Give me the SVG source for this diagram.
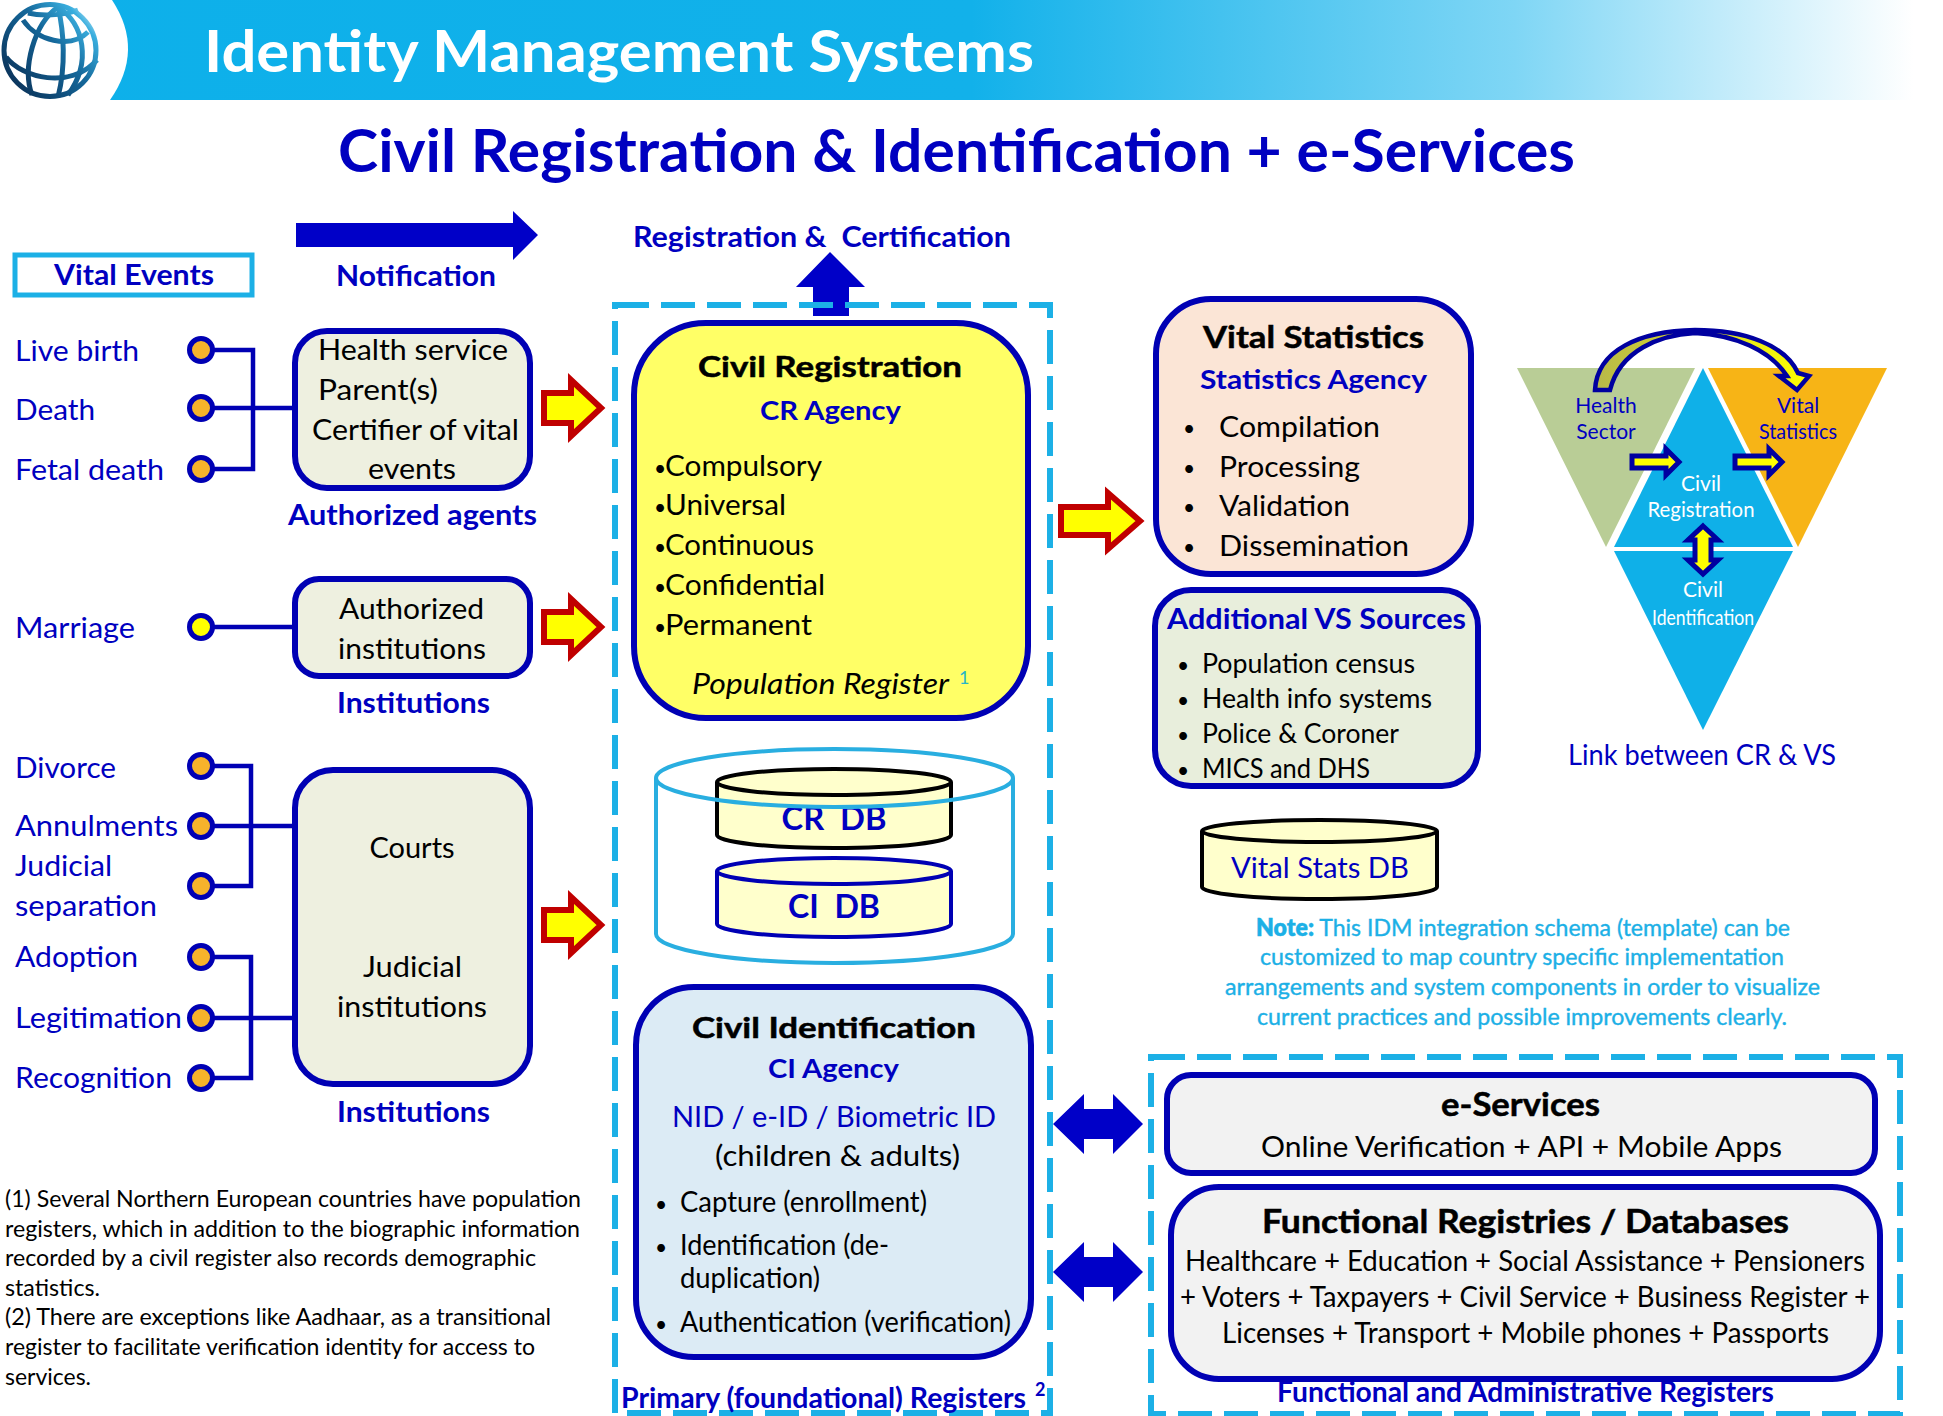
<svg xmlns="http://www.w3.org/2000/svg" width="1943" height="1416" viewBox="0 0 1943 1416">
<style>
text{font-family:"Lato","Liberation Sans",sans-serif;font-size:29px;fill:#000;white-space:pre}
.b{font-weight:700}
.blue{fill:#0000c0}
.blueb{fill:#0000c0;font-weight:700}
.m{text-anchor:middle}
.box{stroke:#0000b4;stroke-width:6}
.dash{fill:none;stroke:#1cb0e6;stroke-width:6;stroke-dasharray:34 12}
.red{fill:#ffff00;stroke:#c00000;stroke-width:6}
.solid{fill:#0000c8}
.dot{fill:#f7b32b;stroke:#0000b4;stroke-width:5}
.con{fill:none;stroke:#0000b4;stroke-width:4.5}
.note{fill:#1cb0e6;font-size:24px;stroke:#1cb0e6;stroke-width:.4}
.foot{font-size:23.5px}
.cyl{fill:#ffffcc;stroke:#000;stroke-width:4}
.mini{fill:#ffff00;stroke:#0000a0;stroke-width:5}
.tri{font-size:21px}
.w{fill:#fff}
.big{font-weight:700;stroke:#000;stroke-width:.5}
.s26{font-size:26px}
.bu{font-size:21px}
</style>
<defs>
<linearGradient id="band" x1="0" x2="1" y1="0" y2="0"><stop offset="0" stop-color="#0db0ea"/><stop offset="0.5" stop-color="#12b1ea"/><stop offset="0.78" stop-color="#7fd6f5"/><stop offset="0.985" stop-color="#ffffff"/></linearGradient>
<linearGradient id="globe" gradientUnits="userSpaceOnUse" x1="5" x2="95" y1="85" y2="10"><stop offset="0" stop-color="#0a2f55"/><stop offset="0.55" stop-color="#14679a"/><stop offset="0.85" stop-color="#39aede"/><stop offset="1" stop-color="#d8f1fb"/></linearGradient>
<linearGradient id="curve" x1="0" x2="1" y1="0" y2="0"><stop offset="0" stop-color="#b7b84a"/><stop offset="1" stop-color="#ffff00"/></linearGradient>
<path id="redArrow" d="M0 -15H27V-28L57 0L27 28V15H0Z"/>
<path id="redArrowLong" d="M0 -14H47V-28L79 0L47 28V14H0Z"/>
<path id="dbl" d="M0 0L31 -30V-15H60V-30L90 0L60 30V15H31V30Z"/>
<path id="miniH" d="M0 -6H34V-13L47 0L34 13V6H0Z"/>
</defs>

<g id="header">
<rect x="0" y="0" width="1943" height="100" fill="url(#band)"/>
<path d="M0 0H112Q145 50 110 100H0Z" fill="#fff"/>
<g fill="none" stroke="url(#globe)" stroke-width="5">
<circle cx="50" cy="50.500" r="46"/>
<path d="M58 7C34 24 22 68 32 95"/>
<path d="M58 7C64 32 66 66 58 97"/>
<path d="M58 7C84 24 92 62 68 95"/>
<path d="M23 20C36 40 70 50 88 32"/>
<path d="M6 57C22 78 70 90 97 60"/>
<path d="M28 13C40 16 62 16 78 10"/>
</g>
<text class="w b" x="204" y="72" style="font-size:57px" textLength="830" lengthAdjust="spacingAndGlyphs">Identity Management Systems</text>
</g>
<g id="title"><text class="blueb" x="338" y="172" style="font-size:60px" textLength="1237" lengthAdjust="spacingAndGlyphs">Civil Registration &amp; Identification + e-Services</text></g>

<g id="vital-events">
<rect x="15" y="255" width="237" height="40" fill="#fff" stroke="#1cb0e6" stroke-width="5"/>
<text class="blueb" x="54" y="285" textLength="160" lengthAdjust="spacingAndGlyphs">Vital Events</text>
</g>
<g id="notification">
<path class="solid" d="M296 223H513V211L538 235L513 260V247H296Z"/>
<text class="blueb" x="336" y="286" textLength="160" lengthAdjust="spacingAndGlyphs">Notification</text>
</g>
<g id="registration-certification">
<text class="blueb" x="633" y="247" textLength="378" lengthAdjust="spacingAndGlyphs">Registration &amp;  Certification</text>
</g>

<g id="events-labels">
<text class="blue" x="15" y="361" textLength="124" lengthAdjust="spacingAndGlyphs">Live birth</text>
<text class="blue" x="15" y="420" textLength="80" lengthAdjust="spacingAndGlyphs">Death</text>
<text class="blue" x="15" y="480" textLength="149" lengthAdjust="spacingAndGlyphs">Fetal death</text>
<text class="blue" x="15" y="638" textLength="120" lengthAdjust="spacingAndGlyphs">Marriage</text>
<text class="blue" x="15" y="778" textLength="101" lengthAdjust="spacingAndGlyphs">Divorce</text>
<text class="blue" x="15" y="836" textLength="163" lengthAdjust="spacingAndGlyphs">Annulments</text>
<text class="blue" x="15" y="876" textLength="97" lengthAdjust="spacingAndGlyphs">Judicial</text>
<text class="blue" x="15" y="916" textLength="142" lengthAdjust="spacingAndGlyphs">separation</text>
<text class="blue" x="15" y="967" textLength="123" lengthAdjust="spacingAndGlyphs">Adoption</text>
<text class="blue" x="15" y="1028" textLength="167" lengthAdjust="spacingAndGlyphs">Legitimation</text>
<text class="blue" x="15" y="1088" textLength="157" lengthAdjust="spacingAndGlyphs">Recognition</text>
</g>

<g id="connectors">
<path class="con" d="M201 350H253V469H201M201 408H293"/>
<path class="con" d="M201 627H293"/>
<path class="con" d="M201 766H251V886H201M201 826H293"/>
<path class="con" d="M201 957H251V1078H201M201 1018H293"/>
<use href="#redArrow" class="red" x="544" y="408"/>
<use href="#redArrow" class="red" x="544" y="627"/>
<use href="#redArrow" class="red" x="544" y="925"/>
<use href="#redArrowLong" class="red" x="1061" y="521"/>
<path class="solid" d="M830 252L865 287H849V316H813V287H796Z"/>
<use href="#dbl" class="solid" x="1053" y="1124"/>
<use href="#dbl" class="solid" x="1053" y="1272"/>
</g>

<g id="dots">
<circle class="dot" cx="201" cy="350" r="11.5"/>
<circle class="dot" cx="201" cy="408" r="11.5"/>
<circle class="dot" cx="201" cy="469" r="11.5"/>
<circle class="dot" style="fill:#ffff00" cx="201" cy="627" r="11.5"/>
<circle class="dot" cx="201" cy="766" r="11.5"/>
<circle class="dot" cx="201" cy="826" r="11.5"/>
<circle class="dot" cx="201" cy="886" r="11.5"/>
<circle class="dot" cx="201" cy="957" r="11.5"/>
<circle class="dot" cx="201" cy="1018" r="11.5"/>
<circle class="dot" cx="201" cy="1078" r="11.5"/>
</g>

<g id="authorized-agents">
<rect class="box" x="295" y="331" width="235" height="157" rx="32" fill="#eef0e0"/>
<text x="318" y="360" textLength="190" lengthAdjust="spacingAndGlyphs">Health service</text>
<text x="318" y="400" textLength="120" lengthAdjust="spacingAndGlyphs">Parent(s)</text>
<text x="312" y="440" textLength="207" lengthAdjust="spacingAndGlyphs">Certifier of vital</text>
<text x="368" y="479" textLength="88" lengthAdjust="spacingAndGlyphs">events</text>
<text class="blueb" x="288" y="525" textLength="249" lengthAdjust="spacingAndGlyphs">Authorized agents</text>
</g>
<g id="institutions-1">
<rect class="box" x="295" y="579" width="235" height="97" rx="24" fill="#eef0e0"/>
<text x="339" y="619" textLength="145" lengthAdjust="spacingAndGlyphs">Authorized</text>
<text x="338" y="659" textLength="148" lengthAdjust="spacingAndGlyphs">institutions</text>
<text class="blueb" x="337" y="713" textLength="153" lengthAdjust="spacingAndGlyphs">Institutions</text>
</g>
<g id="institutions-2">
<rect class="box" x="295" y="770" width="235" height="314" rx="38" fill="#eef0e0"/>
<text class="m" x="412" y="858">Courts</text>
<text x="363" y="977" textLength="99" lengthAdjust="spacingAndGlyphs">Judicial</text>
<text x="337" y="1017" textLength="150" lengthAdjust="spacingAndGlyphs">institutions</text>
<text class="blueb" x="337" y="1122" textLength="153" lengthAdjust="spacingAndGlyphs">Institutions</text>
</g>

<g id="footnotes">
<text class="foot" x="5" y="1207" textLength="576" lengthAdjust="spacingAndGlyphs">(1) Several Northern European countries have population</text>
<text class="foot" x="5" y="1237" textLength="575" lengthAdjust="spacingAndGlyphs">registers, which in addition to the biographic information</text>
<text class="foot" x="5" y="1266" textLength="531" lengthAdjust="spacingAndGlyphs">recorded by a civil register also records demographic</text>
<text class="foot" x="5" y="1296" textLength="95" lengthAdjust="spacingAndGlyphs">statistics.</text>
<text class="foot" x="5" y="1325" textLength="546" lengthAdjust="spacingAndGlyphs">(2) There are exceptions like Aadhaar, as a transitional</text>
<text class="foot" x="5" y="1355" textLength="530" lengthAdjust="spacingAndGlyphs">register to facilitate verification identity for access to</text>
<text class="foot" x="5" y="1385" textLength="86" lengthAdjust="spacingAndGlyphs">services.</text>
</g>

<g id="primary-registers">
<rect class="dash" x="615" y="305" width="435" height="1108"/>
<text class="blueb" x="621" y="1408" style="font-size:28px" textLength="405" lengthAdjust="spacingAndGlyphs">Primary (foundational) Registers</text>
<text class="blueb" x="1035" y="1396" style="font-size:18px">2</text>
</g>

<g id="civil-registration">
<rect class="box" x="634" y="323" width="394" height="395" rx="72" fill="#ffff66"/>
<text class="big m" x="830" y="377" textLength="264" lengthAdjust="spacingAndGlyphs">Civil Registration</text>
<text class="blueb" x="760" y="420" textLength="141" lengthAdjust="spacingAndGlyphs" style="font-size:27px">CR Agency</text>
<text x="654" y="476" class="bu">•</text><text x="665" y="476" textLength="157" lengthAdjust="spacingAndGlyphs">Compulsory</text>
<text x="654" y="515" class="bu">•</text><text x="665" y="515" textLength="121" lengthAdjust="spacingAndGlyphs">Universal</text>
<text x="654" y="555" class="bu">•</text><text x="665" y="555" textLength="149" lengthAdjust="spacingAndGlyphs">Continuous</text>
<text x="654" y="595" class="bu">•</text><text x="665" y="595" textLength="160" lengthAdjust="spacingAndGlyphs">Confidential</text>
<text x="654" y="635" class="bu">•</text><text x="665" y="635" textLength="147" lengthAdjust="spacingAndGlyphs">Permanent</text>
<text x="692" y="694" style="font-style:italic" textLength="257" lengthAdjust="spacingAndGlyphs">Population Register</text>
<text x="959" y="684" style="font-size:18px;fill:#26b5c8">1</text>
</g>

<g id="db-group">
<path d="M656 778V934A178.500 29 0 0 0 1013 934V778" fill="#fff" stroke="#29aee0" stroke-width="4"/>
<g id="cr-db">
<path class="cyl" d="M717 782V835A117 13 0 0 0 951 835V782"/>
<ellipse class="cyl" cx="834" cy="782" rx="117" ry="13"/>
<text class="blueb m" x="834" y="830" textLength="105" lengthAdjust="spacingAndGlyphs" style="font-size:33px">CR  DB</text>
</g>
<ellipse cx="834.500" cy="778" rx="178.500" ry="29" fill="none" stroke="#29aee0" stroke-width="4"/>
<g id="ci-db">
<path class="cyl" style="stroke:#0000b4" d="M717 871V924A117 13 0 0 0 951 924V871"/>
<ellipse class="cyl" style="stroke:#0000b4" cx="834" cy="871" rx="117" ry="13"/>
<text class="blueb m" x="834" y="918" textLength="92" lengthAdjust="spacingAndGlyphs" style="font-size:33px">CI  DB</text>
</g>
</g>

<g id="civil-identification">
<rect class="box" x="636" y="987" width="395" height="370" rx="58" fill="#dcebf5"/>
<text class="big" x="692" y="1038" textLength="284" lengthAdjust="spacingAndGlyphs">Civil Identification</text>
<text class="blueb" x="768" y="1078" textLength="131" lengthAdjust="spacingAndGlyphs" style="font-size:27px">CI Agency</text>
<text class="blue" x="672" y="1127" textLength="324" lengthAdjust="spacingAndGlyphs">NID / e-ID / Biometric ID</text>
<text x="715" y="1166" textLength="245" lengthAdjust="spacingAndGlyphs">(children &amp; adults)</text>
<text x="655" y="1212" class="bu">•</text><text x="680" y="1212" textLength="247" lengthAdjust="spacingAndGlyphs">Capture (enrollment)</text>
<text x="655" y="1255" class="bu">•</text><text x="680" y="1255" textLength="209" lengthAdjust="spacingAndGlyphs">Identification (de-</text>
<text x="680" y="1288" textLength="140" lengthAdjust="spacingAndGlyphs">duplication)</text>
<text x="655" y="1332" class="bu">•</text><text x="680" y="1332" textLength="331" lengthAdjust="spacingAndGlyphs">Authentication (verification)</text>
</g>

<g id="vital-statistics">
<rect class="box" x="1156" y="299" width="315" height="275" rx="55" fill="#fbe5d6"/>
<text class="big" x="1203" y="348" textLength="221" lengthAdjust="spacingAndGlyphs" style="font-size:31px">Vital Statistics</text>
<text class="blueb" x="1200" y="389" textLength="227" lengthAdjust="spacingAndGlyphs" style="font-size:27px">Statistics Agency</text>
<text x="1183" y="436" class="bu">•</text><text x="1219" y="437" textLength="161" lengthAdjust="spacingAndGlyphs">Compilation</text>
<text x="1183" y="476" class="bu">•</text><text x="1219" y="477" textLength="141" lengthAdjust="spacingAndGlyphs">Processing</text>
<text x="1183" y="515" class="bu">•</text><text x="1219" y="516" textLength="131" lengthAdjust="spacingAndGlyphs">Validation</text>
<text x="1183" y="555" class="bu">•</text><text x="1219" y="556" textLength="190" lengthAdjust="spacingAndGlyphs">Dissemination</text>
</g>

<g id="additional-vs">
<rect class="box" x="1155" y="590" width="323" height="196" rx="36" fill="#e8eedc"/>
<text class="blueb" x="1167" y="629" textLength="299" lengthAdjust="spacingAndGlyphs">Additional VS Sources</text>
<text x="1177" y="673" class="bu">•</text><text x="1202" y="673" class="s26" textLength="213" lengthAdjust="spacingAndGlyphs">Population census</text>
<text x="1177" y="708" class="bu">•</text><text x="1202" y="708" class="s26" textLength="230" lengthAdjust="spacingAndGlyphs">Health info systems</text>
<text x="1177" y="743" class="bu">•</text><text x="1202" y="743" class="s26" textLength="197" lengthAdjust="spacingAndGlyphs">Police &amp; Coroner</text>
<text x="1177" y="778" class="bu">•</text><text x="1202" y="778" class="s26" textLength="168" lengthAdjust="spacingAndGlyphs">MICS and DHS</text>
</g>

<g id="vital-stats-db">
<path class="cyl" d="M1202 831V887A117.500 12 0 0 0 1437 887V831"/>
<ellipse class="cyl" cx="1319.500" cy="831" rx="117.500" ry="11"/>
<text class="blue" x="1231" y="878" textLength="178" lengthAdjust="spacingAndGlyphs">Vital Stats DB</text>
</g>

<g id="note">
<text class="note" x="1256" y="936" textLength="534" lengthAdjust="spacingAndGlyphs"><tspan style="font-weight:800">Note:</tspan> This IDM integration schema (template) can be</text>
<text class="note" x="1260" y="965" textLength="524" lengthAdjust="spacingAndGlyphs">customized to map country specific implementation</text>
<text class="note" x="1225" y="995" textLength="595" lengthAdjust="spacingAndGlyphs">arrangements and system components in order to visualize</text>
<text class="note" x="1257" y="1025" textLength="530" lengthAdjust="spacingAndGlyphs">current practices and possible improvements clearly.</text>
</g>

<g id="link-diagram">
<path d="M1517 368H1695L1606 547Z" fill="#b9cd96"/>
<path d="M1708 368H1887L1798 547Z" fill="#f7b416"/>
<path d="M1703 368L1614 547H1793Z" fill="#0fb0e8"/>
<path d="M1614 551H1793L1703 730Z" fill="#0fb0e8"/>
<text class="blue tri m" x="1606" y="413">Health</text>
<text class="blue tri m" x="1606" y="439">Sector</text>
<text class="blue tri m" x="1798" y="413">Vital</text>
<text class="blue tri m" x="1798" y="439" textLength="78" lengthAdjust="spacingAndGlyphs">Statistics</text>
<text class="w tri m" x="1701" y="491">Civil</text>
<text class="w tri m" x="1701" y="517" textLength="107" lengthAdjust="spacingAndGlyphs">Registration</text>
<text class="w tri m" x="1703" y="597">Civil</text>
<text class="w tri m" x="1703" y="625" textLength="102" lengthAdjust="spacingAndGlyphs">Identification</text>
<path d="M1595 390C1597 350 1640 331 1695 330C1745 330 1785 345 1798 373L1809 376L1797 390L1779 376L1787 376C1770 350 1735 335 1695 333C1660 335 1620 350 1610 390Z" fill="url(#curve)" stroke="#0000a0" stroke-width="4.500"/>
<use href="#miniH" class="mini" x="1632" y="462"/>
<use href="#miniH" class="mini" x="1735" y="462"/>
<path class="mini" d="M1703 526L1718 540H1711V560H1718L1703 574L1688 560H1695V540H1688Z"/>
<text class="blue" x="1568" y="765" textLength="268" lengthAdjust="spacingAndGlyphs">Link between CR &amp; VS</text>
</g>

<g id="functional-registers">
<rect class="dash" x="1151" y="1057" width="749" height="357"/>
<text class="blueb" x="1277" y="1402" textLength="497" lengthAdjust="spacingAndGlyphs" style="font-size:28px">Functional and Administrative Registers</text>
</g>
<g id="e-services">
<rect class="box" x="1167" y="1075" width="708" height="98" rx="24" fill="#f2f2f2"/>
<text class="big" x="1441" y="1116" textLength="159" lengthAdjust="spacingAndGlyphs" style="font-size:33px">e-Services</text>
<text x="1261" y="1157" textLength="521" lengthAdjust="spacingAndGlyphs">Online Verification + API + Mobile Apps</text>
</g>
<g id="functional-registries">
<rect class="box" x="1171" y="1187" width="709" height="192" rx="48" fill="#f2f2f2"/>
<text class="big" x="1262" y="1233" textLength="527" lengthAdjust="spacingAndGlyphs" style="font-size:33px">Functional Registries / Databases</text>
<text x="1185" y="1271" textLength="680" lengthAdjust="spacingAndGlyphs">Healthcare + Education + Social Assistance + Pensioners</text>
<text x="1180" y="1307" textLength="690" lengthAdjust="spacingAndGlyphs">+ Voters + Taxpayers + Civil Service + Business Register +</text>
<text x="1222" y="1343" textLength="607" lengthAdjust="spacingAndGlyphs">Licenses + Transport + Mobile phones + Passports</text>
</g>
</svg>
